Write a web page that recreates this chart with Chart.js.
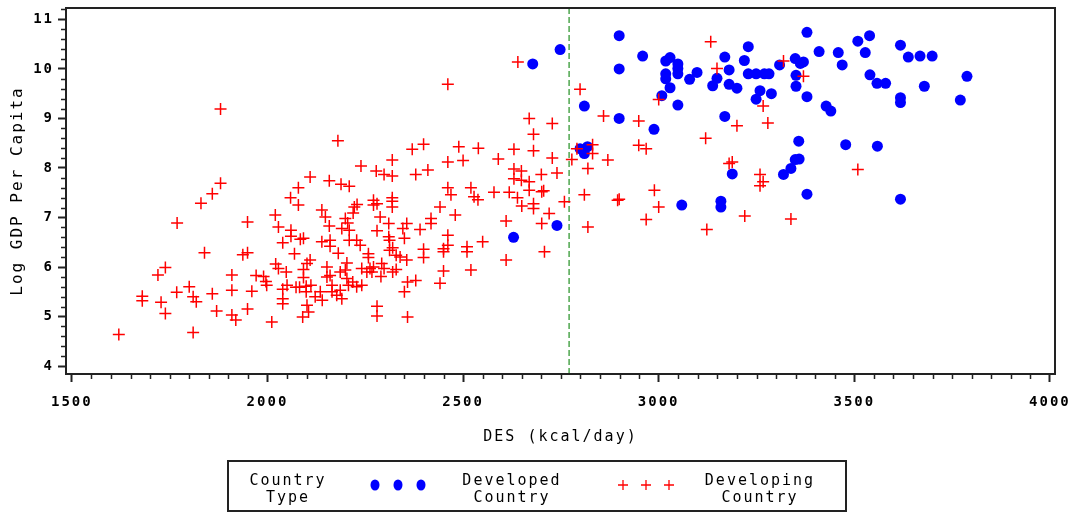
<!DOCTYPE html>
<html>
<head>
<meta charset="utf-8">
<script src="https://cdn.jsdelivr.net/npm/chart.js@4.4.0/dist/chart.umd.min.js"></script>
<style>
  body { margin: 0; background: #fff; }
  #wrap { position: relative; width: 1075px; height: 513px; }
  #plot { position: absolute; left: 0; top: 0; }
  .legend {
    position: absolute; left: 227px; top: 460px; width: 616px; height: 48px;
    border: 2px solid #222;
    font-family: "DejaVu Sans Mono", monospace; font-size: 15px; letter-spacing: 2px; color: #000;
  }
  .legend .txt {
    position: absolute; top: 10px; line-height: 17px; text-align: center;
    transform: translateX(-50%); white-space: nowrap;
  }
  .legend svg { position: absolute; top: 16px; }
</style>
</head>
<body>
<div id="wrap">
  <canvas id="plot" width="1075" height="513"></canvas>
  <div class="legend">
    <div class="txt" style="left:59px">Country<br>Type</div>
    <svg style="left:136px" width="66" height="14">
      <ellipse cx="10" cy="7" rx="4.5" ry="5.5" fill="#0000ff"/>
      <ellipse cx="33" cy="7" rx="4.5" ry="5.5" fill="#0000ff"/>
      <ellipse cx="56" cy="7" rx="4.5" ry="5.5" fill="#0000ff"/>
    </svg>
    <div class="txt" style="left:283px">Developed<br>Country</div>
    <svg style="left:384px" width="66" height="14">
      <path d="M5 7H15M10 2V12M28 7H38M33 2V12M51 7H61M56 2V12" stroke="#ff0000" stroke-width="1.3"/>
    </svg>
    <div class="txt" style="left:531px">Developing<br>Country</div>
  </div>
</div>
<script>
// dietary energy supply (kcal/day) and log GDP per capita
const developedDes = [2629, 2678, 2740, 2748, 2799, 2810, 2818, 2810, 2899, 2899,
  2899, 2959, 2988, 3008, 3018, 3029, 3018, 3018, 3029, 3049,
  3049, 3049, 3049, 3059, 3079, 3098, 3138, 3149, 3159, 3159,
  3169, 3169, 3180, 3180, 3188, 3200, 3219, 3229, 3229, 3249,
  3270, 3282, 3249, 3259, 3288, 3309, 3319, 3338, 3349, 3351,
  3351, 3349, 3359, 3358, 3362, 3370, 3379, 3379, 3379, 3410,
  3428, 3440, 3459, 3469, 3478, 3509, 3528, 3539, 3540, 3558,
  3580, 3559, 3618, 3618, 3618, 3618, 3638, 3668, 3679, 3699,
  3771, 3788];
const developedGdp = [6.60, 10.10, 6.84, 10.39, 8.39, 8.29, 8.43, 9.25, 10.67, 10.00,
  9.00, 10.26, 8.78, 9.46, 10.16, 10.23, 9.90, 9.80, 9.62, 10.10,
  10.01, 9.90, 9.27, 7.25, 9.79, 9.93, 9.66, 9.81, 7.33, 7.21,
  10.24, 9.04, 9.98, 9.69, 7.88, 9.61, 10.17, 10.45, 9.90, 9.90,
  9.90, 9.90, 9.39, 9.56, 9.50, 10.08, 7.87, 7.99, 10.21, 9.87,
  9.65, 8.17, 8.18, 8.54, 10.11, 10.14, 10.74, 9.44, 7.47, 10.35,
  9.25, 9.15, 10.33, 10.08, 8.47, 10.56, 10.33, 10.67, 9.88, 9.71,
  9.71, 8.44, 10.48, 9.42, 9.32, 7.37, 10.24, 10.26, 9.65, 10.26,
  9.37, 9.85];

const developingDes = [1620, 1680, 1680, 1720, 1739, 1728, 1739, 1768, 1769, 1800,
  1810, 1818, 1810, 1830, 1839, 1859, 1859, 1870, 1880, 1880,
  1909, 1909, 1909, 1919, 1937, 1949, 1949, 1949, 1960, 1971,
  1990, 1996, 1998, 2011, 2020, 2021, 2028, 2028, 2039, 2039,
  2039, 2039, 2048, 2050, 2059, 2060, 2060, 2069, 2073, 2079,
  2079, 2082, 2084, 2092, 2092, 2092, 2090, 2099, 2099, 2101,
  2101, 2105, 2109, 2109, 2111, 2122, 2135, 2139, 2139, 2140,
  2148, 2152, 2152, 2158, 2158, 2160, 2160, 2160, 2165, 2165,
  2177, 2180, 2181, 2186, 2186, 2188, 2190, 2190, 2199, 2199,
  2203, 2203, 2205, 2207, 2209, 2209, 2209, 2218, 2219, 2222,
  2228, 2228, 2229, 2237, 2239, 2241, 2241, 2254, 2258, 2258,
  2262, 2267, 2271, 2271, 2271, 2278, 2280, 2280, 2280, 2280,
  2288, 2290, 2292, 2298, 2298, 2310, 2310, 2312, 2312, 2319,
  2319, 2319, 2319, 2319, 2320, 2320, 2329, 2329, 2339, 2346,
  2350, 2350, 2356, 2356, 2358, 2358, 2370, 2379, 2379, 2390,
  2399, 2399, 2399, 2410, 2418, 2418, 2441, 2441, 2450, 2450,
  2450, 2461, 2461, 2461, 2469, 2461, 2461, 2480, 2489, 2500,
  2510, 2510, 2520, 2528, 2538, 2539, 2520, 2550, 2579, 2590,
  2610, 2610, 2618, 2630, 2630, 2630, 2639, 2640, 2649, 2649,
  2650, 2669, 2669, 2669, 2680, 2680, 2680, 2680, 2700, 2701,
  2706, 2701, 2708, 2720, 2728, 2728, 2740, 2759, 2778, 2791,
  2799, 2810, 2819, 2819, 2831, 2831, 2859, 2870, 2899, 2895,
  2949, 2949, 2968, 2968, 2989, 3000, 3000, 3120, 3123, 3133,
  3149, 3180, 3188, 3200, 3220, 3259, 3267, 3259, 3267, 3279,
  3319, 3338, 3370, 3509];
const developingGdp = [4.64, 5.41, 5.32, 5.84, 5.99, 5.29, 5.06, 5.49, 6.89, 5.60,
  5.40, 5.30, 4.68, 7.29, 6.29, 7.48, 5.46, 5.11, 9.19, 7.69,
  5.84, 5.53, 5.03, 4.93, 6.25, 6.29, 5.15, 6.91, 5.51, 5.83,
  5.81, 5.71, 5.63, 4.89, 7.05, 6.06, 5.97, 6.81, 6.49, 5.55,
  5.36, 5.26, 5.90, 5.63, 7.40, 6.74, 6.62, 6.27, 5.59, 7.60,
  7.25, 5.59, 6.56, 6.58, 5.95, 5.79, 4.99, 5.61, 5.50, 6.07,
  5.23, 5.09, 6.14, 7.82, 5.63, 5.40, 5.50, 7.15, 6.51, 5.33,
  7.01, 5.80, 6.00, 7.74, 6.83, 5.83, 6.54, 6.42, 5.63, 5.50,
  5.43, 8.55, 6.28, 5.90, 5.53, 7.67, 6.78, 5.36, 5.94, 6.98,
  6.08, 5.77, 6.89, 5.63, 7.63, 6.54, 6.74, 5.70, 7.09, 7.21,
  5.60, 6.54, 7.26, 6.44, 8.04, 5.97, 5.63, 5.90, 6.27, 6.19,
  5.97, 5.90, 7.35, 7.25, 6.00, 7.94, 7.28, 6.73, 5.21, 5.01,
  7.01, 5.81, 6.07, 7.87, 5.97, 6.88, 6.61, 6.54, 6.34, 8.16,
  7.84, 7.40, 7.33, 7.21, 6.39, 5.90, 6.24, 5.95, 6.20, 6.78,
  6.58, 5.50, 6.88, 6.14, 5.70, 4.99, 8.38, 7.87, 5.73, 6.76,
  8.48, 6.36, 6.19, 7.96, 6.98, 6.88, 7.21, 5.67, 6.37, 6.31,
  5.92, 9.69, 8.12, 7.60, 7.46, 6.64, 6.44, 7.05, 8.43, 8.15,
  6.41, 6.31, 7.60, 7.42, 7.36, 8.40, 5.94, 6.51, 7.51, 8.18,
  6.93, 6.14, 7.51, 8.38, 7.98, 7.78, 7.40, 10.14, 7.94, 7.75,
  7.23, 9.00, 7.72, 7.55, 8.68, 8.35, 7.28, 7.18, 7.87, 7.52,
  7.54, 6.88, 6.31, 7.08, 8.90, 8.20, 7.90, 7.32, 8.17, 8.39,
  9.59, 7.46, 7.99, 6.81, 8.47, 8.29, 9.05, 8.16, 7.37, 7.35,
  8.95, 8.46, 8.39, 6.96, 7.55, 9.38, 7.21, 8.60, 6.76, 10.55,
  10.01, 8.09, 8.12, 8.85, 7.03, 7.87, 7.72, 7.64, 9.25, 8.91,
  10.16, 6.97, 9.85, 7.97];

const cutoffDes = 2771;
const xTicks = [1500, 2000, 2500, 3000, 3500, 4000];
const yTicks = [4, 5, 6, 7, 8, 9, 10, 11];
const xRange = [1485, 4013];
const yRange = [3.84, 11.23];

const toPoints = (xs, ys) => xs.map((x, i) => ({ x: x, y: ys[i] }));

const monoFont = '"DejaVu Sans Mono", monospace';
const ink = '#222';

// SAS-style wide lettering on the canvas
const spacing = {
  id: 'spacing',
  beforeLayout(chart) { chart.ctx.letterSpacing = '2px'; },
  beforeDraw(chart) { chart.ctx.letterSpacing = '2px'; }
};

// box round the plot plus the small in-between ticks
const frame = {
  id: 'frame',
  afterDraw(chart) {
    const { ctx, chartArea: a, scales: { x, y } } = chart;
    ctx.save();
    ctx.strokeStyle = ink;
    ctx.lineWidth = 2;
    ctx.strokeRect(a.left, a.top, a.right - a.left, a.bottom - a.top);
    ctx.lineWidth = 1.5;
    ctx.beginPath();
    for (let v = 1550; v < 4000; v += 50) {
      if (v % 500 === 0) continue;
      const px = Math.round(x.getPixelForValue(v)) + 0.5;
      ctx.moveTo(px, a.bottom);
      ctx.lineTo(px, a.bottom + 5);
    }
    for (let i = 21; i <= 56; i++) {
      if (i % 5 === 0) continue;
      const py = Math.round(y.getPixelForValue(i / 5)) + 0.5;
      ctx.moveTo(a.left - 5, py);
      ctx.lineTo(a.left, py);
    }
    ctx.stroke();
    ctx.restore();
  }
};

new Chart('plot', {
  type: 'scatter',
  data: {
    datasets: [
      {
        label: 'Developing Country',
        data: toPoints(developingDes, developingGdp),
        pointStyle: 'cross',
        pointRadius: 6,
        borderColor: '#ff0000',
        borderWidth: 1.5,
        order: 0
      },
      {
        label: 'Developed Country',
        data: toPoints(developedDes, developedGdp),
        pointStyle: 'circle',
        pointRadius: 5.5,
        backgroundColor: '#0000ff',
        borderColor: '#0000ff',
        borderWidth: 0,
        order: 1
      },
      {
        label: 'cutoff',
        data: [{ x: cutoffDes, y: yRange[0] }, { x: cutoffDes, y: yRange[1] }],
        showLine: true,
        borderColor: '#4ea64e',
        borderWidth: 1.5,
        borderDash: [6, 3],
        pointRadius: 0,
        order: 2
      }
    ]
  },
  options: {
    responsive: false,
    animation: false,
    layout: { padding: { left: 0, right: 20, top: 8, bottom: 0 } },
    plugins: { legend: { display: false }, tooltip: { enabled: false } },
    scales: {
      x: {
        type: 'linear',
        bounds: 'data',
        min: xRange[0],
        max: xRange[1],
        afterBuildTicks: axis => { axis.ticks = xTicks.map(v => ({ value: v })); },
        afterFit: axis => {
          axis.height = 139;
          axis.paddingLeft = 0;
          axis.paddingRight = 0;
        },
        ticks: {
          callback: v => String(v),
          font: { family: monoFont, size: 14, weight: 'bold' },
          color: '#000',
          padding: 12,
          maxRotation: 0,
          autoSkip: false
        },
        grid: { drawOnChartArea: false, tickLength: 8, tickWidth: 2, tickColor: ink },
        border: { color: ink, width: 2 },
        title: {
          display: true,
          text: 'DES (kcal/day)',
          font: { family: monoFont, size: 15 },
          color: '#000',
          padding: { top: 0, bottom: 67 }
        }
      },
      y: {
        type: 'linear',
        bounds: 'data',
        min: yRange[0],
        max: yRange[1],
        afterBuildTicks: axis => { axis.ticks = yTicks.map(v => ({ value: v })); },
        afterFit: axis => {
          axis.width = 66;
          axis.paddingTop = 0;
          axis.paddingBottom = 0;
        },
        ticks: {
          callback: v => String(v),
          font: { family: monoFont, size: 14, weight: 'bold' },
          color: '#000',
          padding: 4
        },
        grid: { drawOnChartArea: false, tickLength: 8, tickWidth: 2, tickColor: ink },
        border: { color: ink, width: 2 },
        title: {
          display: true,
          text: 'Log GDP Per Capita',
          font: { family: monoFont, size: 16 },
          color: '#000',
          padding: { top: 8, bottom: 0 }
        }
      }
    }
  },
  plugins: [spacing, frame]
});
</script>
</body>
</html>
